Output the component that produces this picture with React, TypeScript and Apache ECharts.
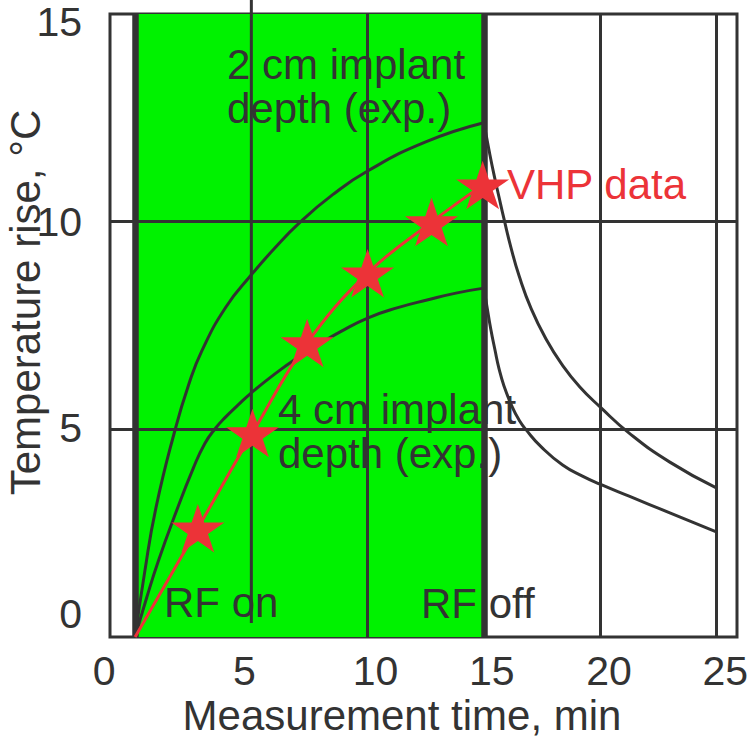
import React, { useEffect, useRef } from "react";
import * as echarts from "echarts";

// ---- data ----
const xTickValues = [0, 5, 10, 15, 20, 25];
const yTickValues = [0, 5, 10, 15];

const rise2cmTime = [0, 0.4, 0.9, 1.72, 2.3, 2.88, 3.9, 5, 6, 7.1, 8.5, 10, 12.5, 15];
const rise2cmTemp = [0, 1.52, 3.12, 4.99, 6.07, 6.9, 7.94, 8.72, 9.36, 9.99, 10.65, 11.22, 11.92, 12.38];
const decay2cmTime = [15, 15.22, 15.43, 15.65, 15.87, 16.17, 16.52, 17.04, 17.7, 18.35, 19.13, 20, 21.25, 23, 25];
const decay2cmTemp = [12.38, 11.73, 11.15, 10.6, 10.06, 9.37, 8.69, 7.9, 7.15, 6.57, 6.02, 5.54, 4.91, 4.21, 3.59];

const rise4cmTime = [0, 0.5, 1, 1.75, 2.5, 3, 3.45, 3.9, 4.4, 5, 6, 7, 8, 8.8, 10, 11.3, 12.6, 13.8, 15];
const rise4cmTemp = [0, 0.95, 1.83, 2.99, 4.06, 4.66, 5.02, 5.3, 5.57, 5.88, 6.33, 6.73, 7.08, 7.34, 7.68, 7.93, 8.12, 8.28, 8.4];
const decay4cmTime = [15, 15.13, 15.3, 15.48, 15.65, 15.87, 16.22, 16.52, 16.83, 17.48, 18.39, 19.22, 20, 21.25, 23, 25];
const decay4cmTemp = [8.4, 7.97, 7.41, 6.91, 6.47, 6.04, 5.54, 5.22, 4.98, 4.57, 4.14, 3.88, 3.68, 3.39, 2.99, 2.53];

const vhpTime = [2.7, 5.05, 7.4, 10.0, 12.75, 14.95];
const vhpTemp = [2.62, 4.91, 7.08, 8.76, 9.99, 10.88];
const vhpCurveTime = [0, ...vhpTime];
const vhpCurveTemp = [0, ...vhpTemp];

const rfOnTime = 0;
const rfOffTime = 15;
const thinGridX = [10, 20, 25];
const thickGridX = [rfOnTime, rfOffTime];
const gridY = [5, 10];
const tallGridX = 5;
const tallGridSpan = [15.34, 0.34];

// ---- style ----
const DARK = "#333333";
const GREEN = "#00f200";
const RED = "#ec3338";
const FONT = '"Liberation Sans", Arial, Helvetica, sans-serif';
const STAR =
  "path://M50 0 L61.23 34.55 L97.55 34.55 L68.16 55.9 L79.39 90.45 L50 69.1 L20.61 90.45 L31.84 55.9 L2.45 34.55 L38.77 34.55 Z";

const xLabelShift = [-31, -7, 8, 8, 9, 9];
const yLabelShift = [-23, -1, 0, 8];

const zip = (xs: number[], ys: number[]) => xs.map((x, i) => [x, ys[i]]);

export default function App() {
  const ref = useRef<HTMLDivElement>(null);

  useEffect(() => {
    if (!ref.current) return;
    const chart = echarts.init(ref.current, null, { renderer: "svg" });

    const xRich: Record<string, any> = {};
    xTickValues.forEach((v, i) => {
      const s = xLabelShift[i];
      xRich["x" + i] = {
        fontSize: 41,
        fontFamily: FONT,
        color: DARK,
        lineHeight: 30,
        padding: s >= 0 ? [0, 0, 0, 2 * s] : [0, -2 * s, 0, 0],
      };
    });
    const yRich: Record<string, any> = {};
    yTickValues.forEach((v, i) => {
      const s = yLabelShift[i];
      yRich["y" + i] = {
        fontSize: 41,
        fontFamily: FONT,
        color: DARK,
        padding: s >= 0 ? [2 * s, 0, 0, 0] : [0, 0, -2 * s, 0],
      };
    });

    const curveStyle = { color: DARK, width: 3 };
    const curve = (name: string, xs: number[], ys: number[]) => ({
      name,
      type: "line",
      data: zip(xs, ys),
      smooth: 0.5,
      showSymbol: false,
      symbol: "none",
      lineStyle: curveStyle,
      silent: true,
      z: 4,
    });

    chart.setOption({
      animation: false,
      grid: {
        left: 110,
        right: 13,
        top: 14,
        bottom: 100,
        outerBoundsMode: "none",
        containLabel: false,
        show: true,
        borderColor: DARK,
        borderWidth: 3,
        backgroundColor: "transparent",
      },
      xAxis: {
        type: "value",
        min: -1.08,
        max: 25.89,
        name: "Measurement time, min",
        nameLocation: "middle",
        nameGap: 62,
        nameMoveOverlap: false,
        nameTextStyle: {
          fontSize: 42,
          lineHeight: 32,
          fontFamily: FONT,
          color: DARK,
          padding: [0, 43, 0, 0],
        },
        axisLine: { show: false },
        axisTick: { show: false },
        splitLine: { show: false },
        axisLabel: {
          customValues: xTickValues,
          margin: 19,
          fontSize: 41,
          lineHeight: 30,
          fontFamily: FONT,
          color: DARK,
          formatter: (v: number) => `{x${xTickValues.indexOf(v)}|${v}}`,
          rich: xRich,
        },
      },
      yAxis: {
        type: "value",
        min: 0,
        max: 15,
        interval: 5,
        name: "Temperature rise, °C",
        nameLocation: "middle",
        nameGap: 65,
        nameMoveOverlap: false,
        nameTextStyle: {
          fontSize: 42,
          lineHeight: 40,
          fontFamily: FONT,
          color: DARK,
          padding: [0, 0, 0, 46],
        },
        axisLine: { show: false },
        axisTick: { show: false },
        splitLine: { show: false },
        axisLabel: {
          margin: 28,
          fontSize: 41,
          fontFamily: FONT,
          color: DARK,
          formatter: (v: number) => `{y${yTickValues.indexOf(v)}|${v}}`,
          rich: yRich,
        },
      },
      series: [
        {
          name: "RF on period",
          type: "line",
          data: [],
          silent: true,
          z: 1,
          markArea: {
            silent: true,
            itemStyle: { color: GREEN, opacity: 1 },
            data: [[{ xAxis: rfOnTime }, { xAxis: rfOffTime }]],
          },
        },
        {
          name: "grid lines",
          type: "line",
          data: [],
          silent: true,
          z: 2,
          markLine: {
            silent: true,
            symbol: ["none", "none"],
            label: { show: false },
            animation: false,
            data: [
              ...thinGridX.map((x) => ({
                xAxis: x,
                lineStyle: { color: DARK, width: 3, type: "solid" },
              })),
              ...thickGridX.map((x) => ({
                xAxis: x,
                lineStyle: { color: DARK, width: 6.5, type: "solid" },
              })),
              ...gridY.map((y) => ({
                yAxis: y,
                lineStyle: { color: DARK, width: 3, type: "solid" },
              })),
            ],
          },
        },
        {
          name: "grid line 5",
          type: "line",
          data: tallGridSpan.map((y) => [tallGridX, y]),
          clip: false,
          showSymbol: false,
          symbol: "none",
          lineStyle: { color: DARK, width: 3 },
          silent: true,
          z: 3,
        },
        curve("2 cm rise", rise2cmTime, rise2cmTemp),
        curve("2 cm decay", decay2cmTime, decay2cmTemp),
        curve("4 cm rise", rise4cmTime, rise4cmTemp),
        curve("4 cm decay", decay4cmTime, decay4cmTemp),
        {
          name: "VHP curve",
          type: "line",
          data: zip(vhpCurveTime, vhpCurveTemp),
          smooth: 0.4,
          showSymbol: false,
          symbol: "none",
          lineStyle: { color: RED, width: 3 },
          silent: true,
          z: 5,
        },
        {
          name: "VHP data",
          type: "scatter",
          data: zip(vhpTime, vhpTemp),
          symbol: STAR,
          symbolKeepAspect: true,
          symbolSize: [53, 51],
          itemStyle: { color: RED, opacity: 1 },
          silent: true,
          clip: false,
          z: 6,
        },
      ],
      graphic: [
        {
          type: "text",
          x: 227,
          y: 42,
          silent: true,
          z: 10,
          style: {
            text: "2 cm implant\ndepth (exp.)",
            font: `42px ${FONT}`,
            fill: DARK,
            lineHeight: 44,
            align: "left",
            verticalAlign: "top",
          },
        },
        {
          type: "text",
          x: 278,
          y: 387,
          silent: true,
          z: 10,
          style: {
            text: "4 cm implant\ndepth (exp.)",
            font: `42px ${FONT}`,
            fill: DARK,
            lineHeight: 44,
            align: "left",
            verticalAlign: "top",
          },
        },
        {
          type: "text",
          x: 507,
          y: 184,
          silent: true,
          z: 10,
          style: {
            text: "VHP data",
            font: `42px ${FONT}`,
            fill: RED,
            align: "left",
            verticalAlign: "middle",
          },
        },
        {
          type: "text",
          x: 164,
          y: 602,
          silent: true,
          z: 10,
          style: {
            text: "RF on",
            font: `42px ${FONT}`,
            fill: DARK,
            align: "left",
            verticalAlign: "middle",
          },
        },
        {
          type: "text",
          x: 421,
          y: 603,
          silent: true,
          z: 10,
          style: {
            text: "RF off",
            font: `42px ${FONT}`,
            fill: DARK,
            align: "left",
            verticalAlign: "middle",
          },
        },
      ],
    });

    return () => chart.dispose();
  }, []);

  return (
    <div
      ref={ref}
      style={{ position: "absolute", left: 0, top: 0, width: 750, height: 737 }}
    />
  );
}
